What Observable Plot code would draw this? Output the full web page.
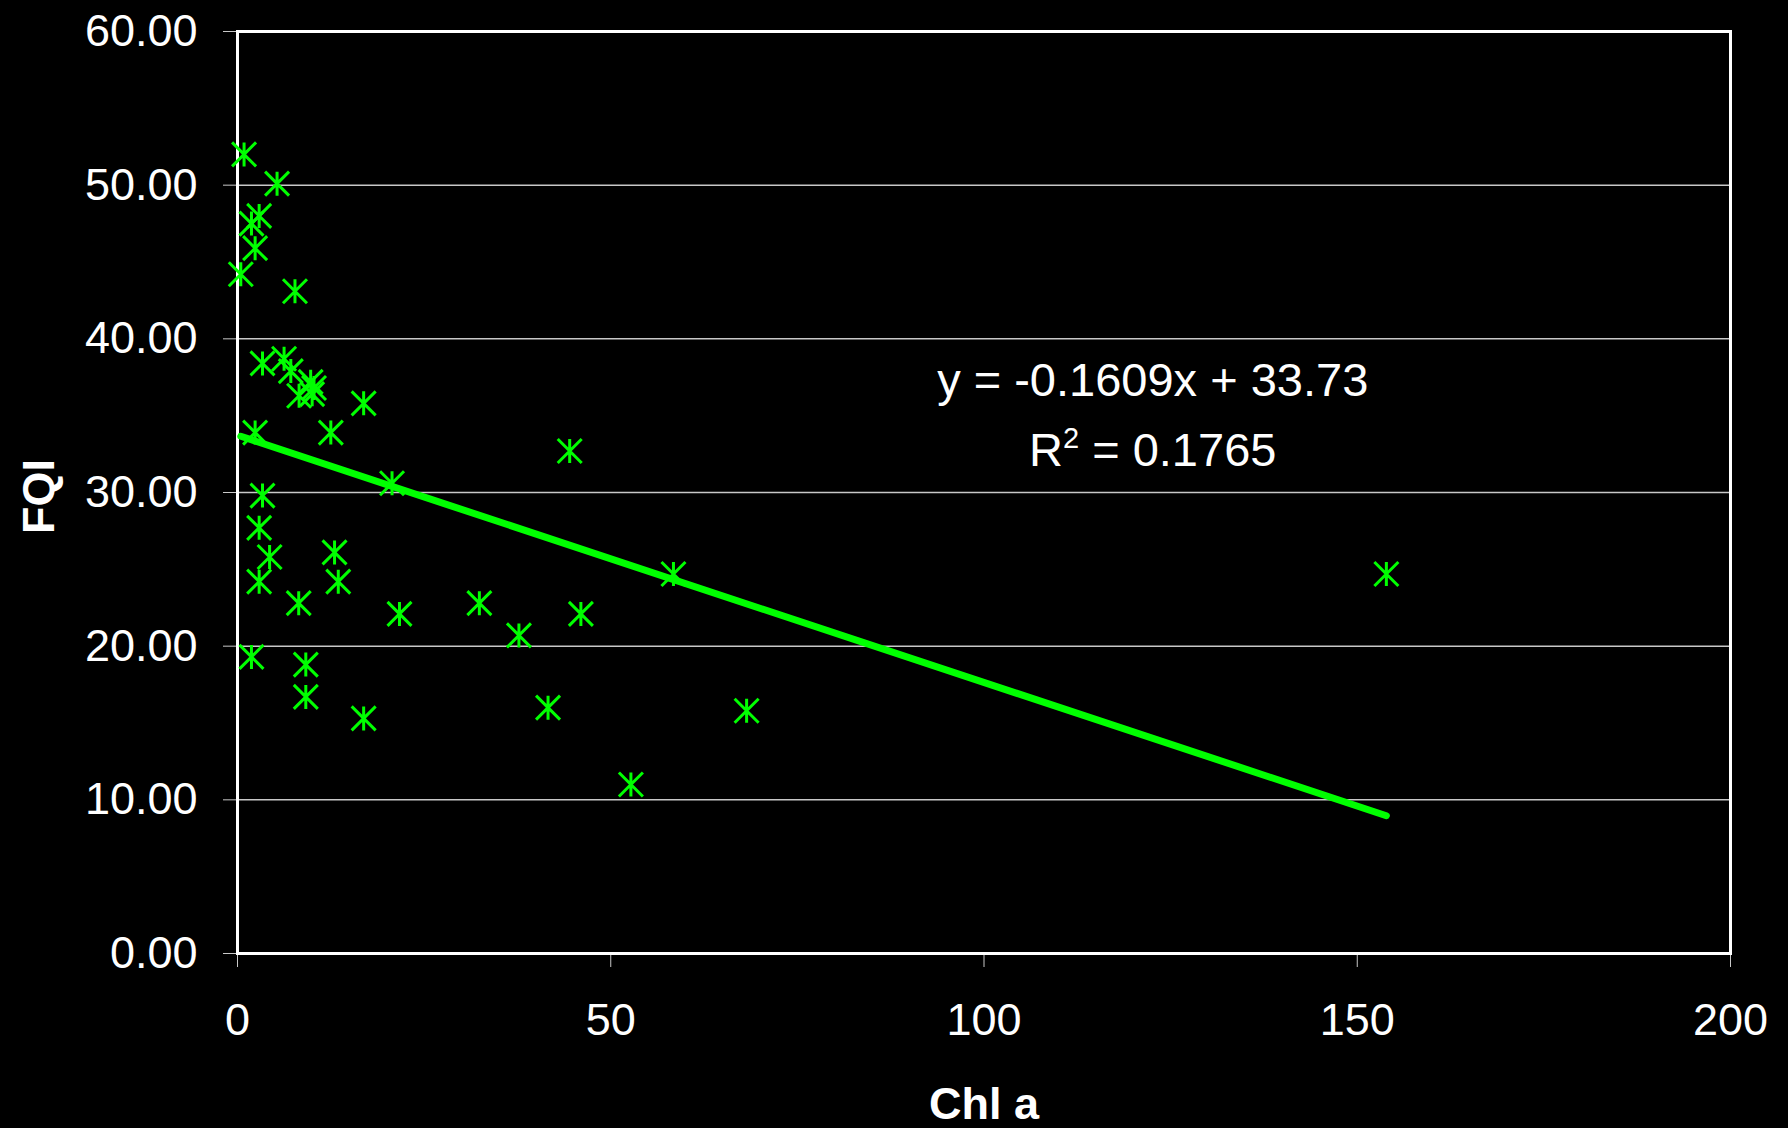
<!DOCTYPE html>
<html>
<head>
<meta charset="utf-8">
<script src="https://cdn.jsdelivr.net/npm/d3@7"></script>
<script src="https://cdn.jsdelivr.net/npm/@observablehq/plot@0.6"></script>
<style>
  html, body { margin: 0; padding: 0; background: #000; }
  #chart { width: 1788px; height: 1128px; overflow: hidden; }
</style>
</head>
<body>
<div id="chart"></div>
<script>
// Chlorophyll a (x) and FQI (y) values
const chlA = [0.88, 5.3, 2.9, 1.87, 2.36, 0.44, 7.7, 3.35, 6.24, 7.14,
              9.8, 10.25, 8.25, 10.0, 16.9, 2.36, 12.5, 20.7, 3.35, 2.9,
              4.3, 13.0, 2.9, 13.5, 8.2, 21.7, 1.87, 9.15, 9.15, 16.9,
              44.5, 32.4, 37.7, 46.0, 58.4, 41.6, 68.2, 52.7, 153.9];
const fqi  = [52.0, 50.1, 48.0, 47.5, 45.9, 44.2, 43.1, 38.4, 38.7, 37.9,
              37.2, 36.8, 36.3, 36.4, 35.8, 33.9, 33.9, 30.6, 29.8, 27.7,
              25.8, 26.1, 24.2, 24.2, 22.8, 22.1, 19.3, 18.8, 16.7, 15.3,
              32.7, 22.8, 20.7, 22.1, 24.7, 16.0, 15.8, 11.0, 24.7];

const xTicks = [0, 50, 100, 150, 200];
const yTicks = [0, 10, 20, 30, 40, 50, 60];

// Linear trendline as stated on the chart
const trendSlope = -0.1609;
const trendIntercept = 33.73;
const rSquared = 0.1765;

const eqLine1 = `y = -${Math.abs(trendSlope).toFixed(4)}x + ${trendIntercept.toFixed(2)}`;
const eqLine2 = `R2 = ${rSquared.toFixed(4)}`;

const points = chlA.map((x, i) => ({x, y: fqi[i]}));
const xExtent = d3.extent(chlA);
const trend = xExtent.map(x => ({x, y: trendSlope * x + trendIntercept}));

// Excel-style star marker: vertical bar + X
const star = {
  draw(context, size) {
    const r = Math.sqrt(size / Math.PI);
    context.moveTo(0, -r); context.lineTo(0, r);
    context.moveTo(-r, -r); context.lineTo(r, r);
    context.moveTo(-r, r); context.lineTo(r, -r);
  }
};

const green = "#00ff00";
const font = "'Liberation Sans', Arial, sans-serif";

const chart = Plot.plot({
  width: 1788,
  height: 1128,
  marginLeft: 237,
  marginRight: 58,
  marginTop: 31,
  marginBottom: 175,
  style: {background: "black", color: "white", fontFamily: font, fontSize: "45px"},
  x: {domain: [0, 200]},
  y: {domain: [0, 60]},
  marks: [
    Plot.gridY(yTicks.filter(v => v > 0 && v < 60), {stroke: "#c8c8c8", strokeOpacity: 1, strokeWidth: 1.5}),
    Plot.axisY(yTicks, {tickSize: 14, tickPadding: 26, tickFormat: d3.format(".2f"), fontSize: 45,
                        stroke: "#c8c8c8", fill: "white", label: null}),
    Plot.axisX(xTicks, {tickSize: 14, tickPadding: 36, tickFormat: d3.format("d"), fontSize: 45,
                        stroke: "#c8c8c8", fill: "white", label: null}),
    Plot.frame({stroke: "white", strokeWidth: 3}),
    Plot.line(trend, {x: "x", y: "y", stroke: green, strokeWidth: 7, strokeLinecap: "round"}),
    Plot.dot(points, {x: "x", y: "y", r: 12, symbol: star, stroke: green, strokeWidth: 3, fill: "none"}),
    Plot.text([eqLine1], {text: d => d, x: 122.6, y: 36.3, lineAnchor: "bottom", textAnchor: "middle",
                          fontSize: 47, fill: "white", className: "eq1"}),
    Plot.text([eqLine2], {text: d => d, x: 122.6, y: 31.75, lineAnchor: "bottom", textAnchor: "middle",
                          fontSize: 47, fill: "white", className: "eq2"}),
    Plot.text(["Chl a"], {text: d => d, frameAnchor: "bottom", lineAnchor: "bottom", textAnchor: "middle",
                          dy: 165, fontSize: 45, fontWeight: "bold", fill: "white"}),
    Plot.text(["FQI"], {text: d => d, frameAnchor: "left", lineAnchor: "bottom", textAnchor: "middle",
                        dx: -184, dy: 4, rotate: -90, fontSize: 45, fontWeight: "bold", fill: "white"})
  ]
});

// Render the "2" of R2 as a superscript
d3.select(chart).selectAll("g.eq2 text").each(function() {
  const t = d3.select(this);
  const s = t.text();
  t.text(null);
  t.append("tspan").text(s.slice(0, 1));
  t.append("tspan").attr("font-size", 29).attr("dy", -18).text(s.slice(1, 2));
  t.append("tspan").attr("dy", 18).text(s.slice(2));
});

document.getElementById("chart").appendChild(chart);
</script>
</body>
</html>
